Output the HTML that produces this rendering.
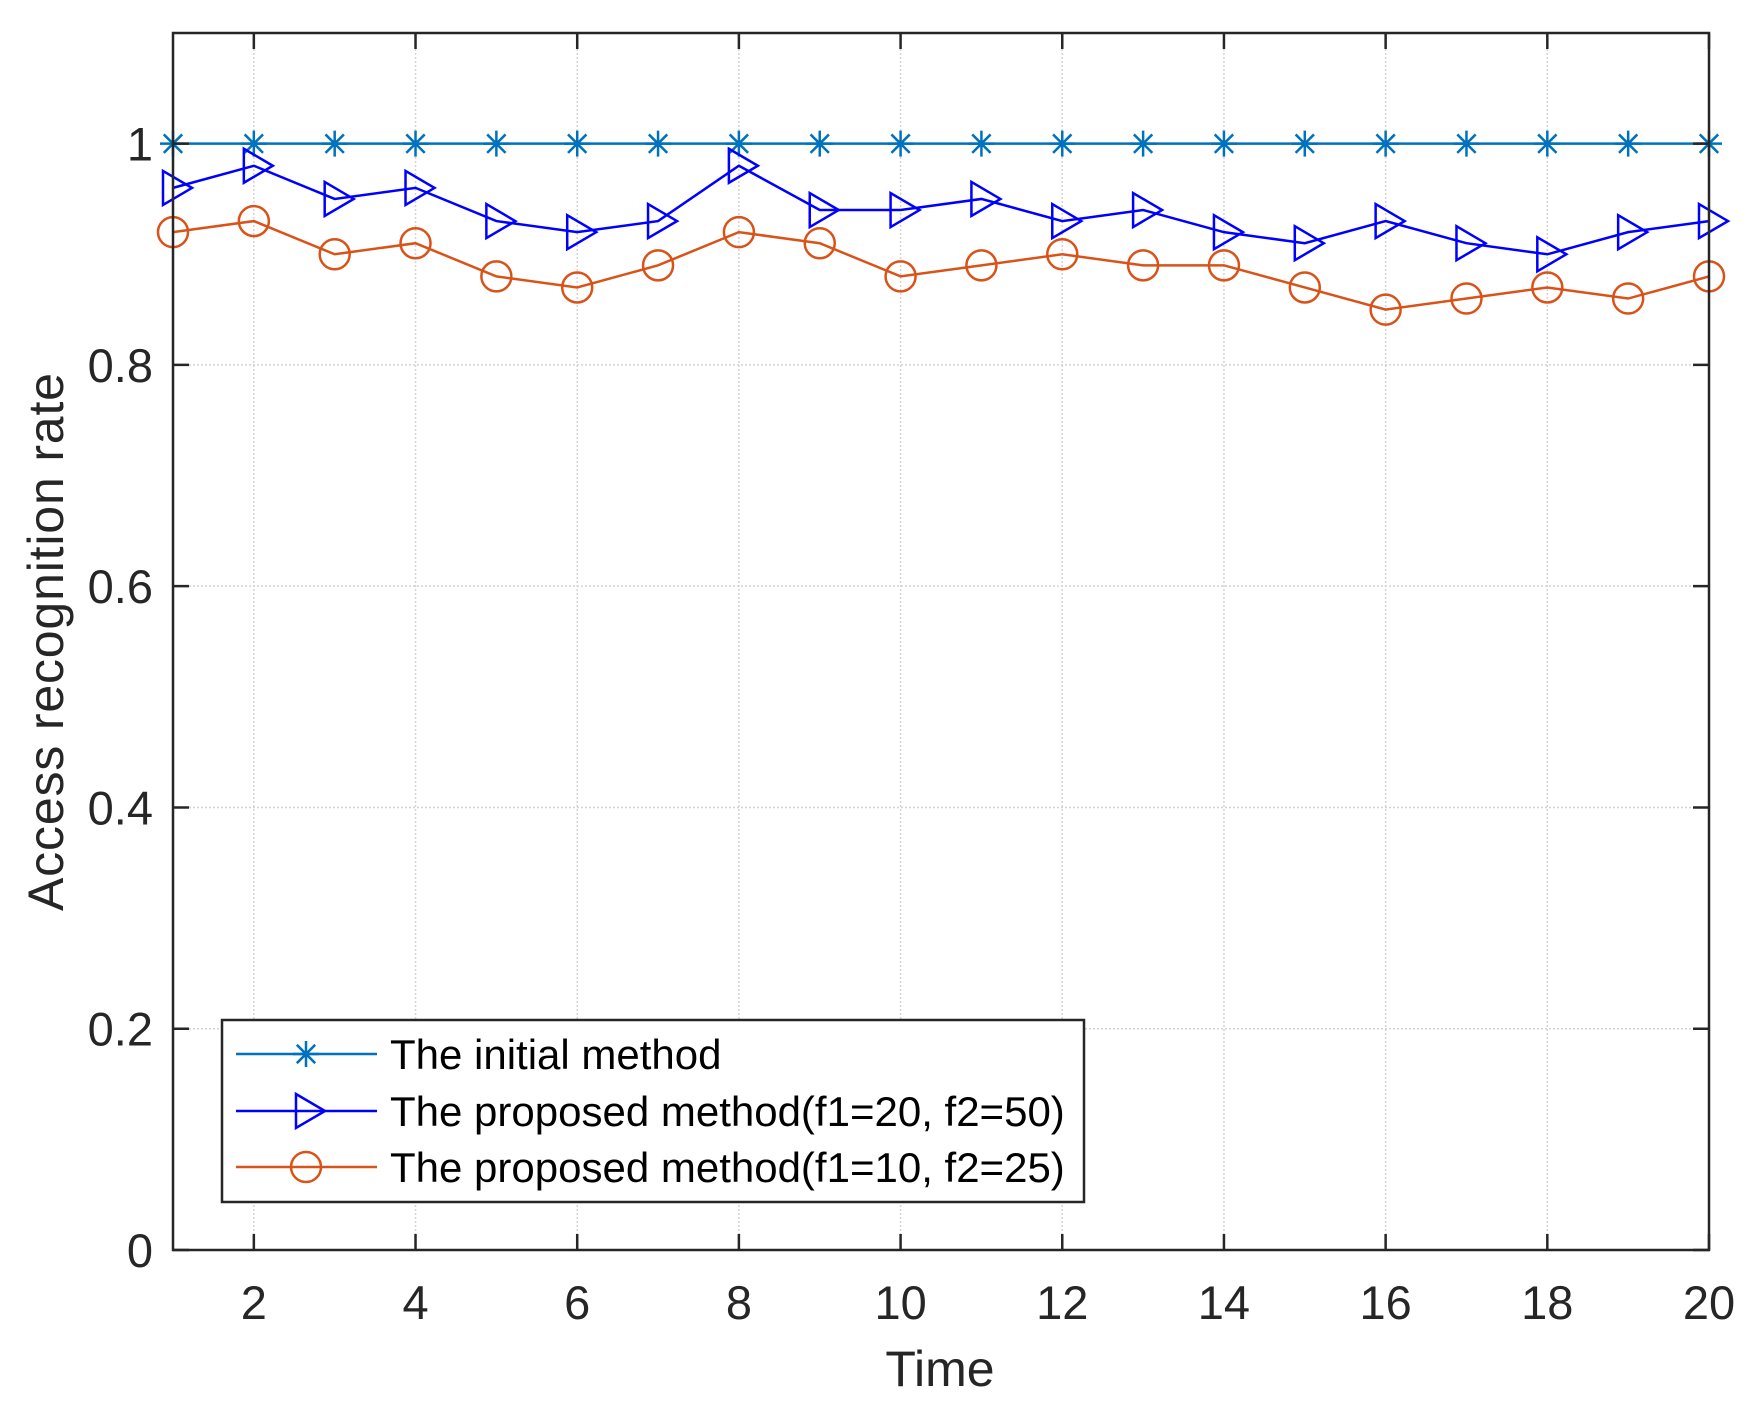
<!DOCTYPE html>
<html><head><meta charset="utf-8"><style>
html,body{margin:0;padding:0;background:#fff}
svg text{font-family:"Liberation Sans",Arial,sans-serif;fill:#262626}
</style></head><body>
<svg id="chart" width="1758" height="1414" xmlns="http://www.w3.org/2000/svg">
<rect width="1758" height="1414" fill="#fff"/>
<g id="grid"></g>
<g id="series"></g>
<g id="axes"></g>
<text x="940" y="1386" font-size="50" text-anchor="middle">Time</text>
<text transform="translate(63,642) rotate(-90)" font-size="50" text-anchor="middle" textLength="538">Access recognition rate</text>
<g id="legend"></g>
</svg>
<script>
const times = [1,2,3,4,5,6,7,8,9,10,11,12,13,14,15,16,17,18,19,20];
const initialValues = [1,1,1,1,1,1,1,1,1,1,1,1,1,1,1,1,1,1,1,1];
const proposed20Values = [0.96,0.98,0.95,0.96,0.93,0.92,0.93,0.98,0.94,0.94,0.95,0.93,0.94,0.92,0.91,0.93,0.91,0.90,0.92,0.93];
const proposed10Values = [0.92,0.93,0.90,0.91,0.88,0.87,0.89,0.92,0.91,0.88,0.89,0.90,0.89,0.89,0.87,0.85,0.86,0.87,0.86,0.88];
const xTicks = [2,4,6,8,10,12,14,16,18,20];
const yTicks = [0,0.2,0.4,0.6,0.8,1];
const yTickLabels = ["0","0.2","0.4","0.6","0.8","1"];
const legendLabels = ["The initial method","The proposed method(f1=20, f2=50)","The proposed method(f1=10, f2=25)"];

const L=173,R=1709,T=33,B=1250;
const xMin=1,xMax=20,yMin=0,yMax=1.1;
const sx=v=>L+(v-xMin)/(xMax-xMin)*(R-L);
const sy=v=>B-(v-yMin)/(yMax-yMin)*(B-T);
const NS="http://www.w3.org/2000/svg";
function mk(tag,attrs,parent){const e=document.createElementNS(NS,tag);for(const k in attrs)e.setAttribute(k,attrs[k]);parent.appendChild(e);return e;}
const grid=document.getElementById('grid'),axes=document.getElementById('axes'),series=document.getElementById('series'),legend=document.getElementById('legend');

xTicks.forEach(t=>{
  const g=mk('line',{x1:sx(t),x2:sx(t),y1:T,y2:B,stroke:'#d4d4d4','stroke-width':1.5,'stroke-dasharray':'2,2'},grid);
  
  
  const tk=mk('path',{d:`M${sx(t)},${B}v-16M${sx(t)},${T}v16`,stroke:'#262626','stroke-width':2.5},axes);
  
  
  const tx=mk('text',{x:sx(t),y:1319,'font-size':47,'text-anchor':'middle'},axes);
  tx.textContent=t;
  
  
});
yTicks.forEach((t,i)=>{
  const g=mk('line',{x1:L,x2:R,y1:sy(t),y2:sy(t),stroke:'#d4d4d4','stroke-width':1.5,'stroke-dasharray':'2,2'},grid);
  
  
  const tk=mk('path',{d:`M${L},${sy(t)}h16M${R},${sy(t)}h-16`,stroke:'#262626','stroke-width':2.5},axes);
  
  
  const tx=mk('text',{x:153,y:sy(t)+17,'font-size':47,'text-anchor':'end'},axes);
  tx.textContent=yTickLabels[i];
  
  
});
const frame=mk('rect',{x:L,y:T,width:R-L,height:B-T,fill:'none',stroke:'#262626','stroke-width':2.5},axes);



function marker(type,x,y,color,parent){
  let e;
  if(type==='star'){
    const r=13,d=r*0.707;
    e=mk('path',{d:`M${x-r},${y}h${2*r}M${x},${y-r}v${2*r}M${x-d},${y-d}l${2*d},${2*d}M${x-d},${y+d}l${2*d},${-2*d}`,stroke:color,'stroke-width':2.5,fill:'none'},parent);
  }else if(type==='tri'){
    e=mk('path',{d:`M${x-10},${y-17}L${x+19},${y}L${x-10},${y+17}Z`,stroke:color,'stroke-width':2.5,fill:'none'},parent);
  }else{
    e=mk('circle',{cx:x,cy:y,r:15,stroke:color,'stroke-width':2.5,fill:'none'},parent);
  }
  return e;
}
const defs=[[initialValues,'#0072BD','star'],[proposed20Values,'#0000FF','tri'],[proposed10Values,'#D95319','circ']];
const names=['series-initial','series-proposed-f1-20','series-proposed-f1-10'];
defs.forEach((d,si)=>{
  const [vals,color,type]=d;
  const g=mk('g',{},series);
  
  
  const pts=vals.map((v,i)=>`${sx(times[i])},${sy(v)}`).join(' ');
  const pl=mk('polyline',{points:pts,fill:'none',stroke:color,'stroke-width':2.5},g);
  
  
  vals.forEach((v,i)=>{
    const m=marker(type,sx(times[i]),sy(v),color,g);
    
    
  });
});

const lb=mk('rect',{x:222,y:1020,width:862,height:182,fill:'#fff',stroke:'#262626','stroke-width':2.5},legend);


const rows=[1054,1111,1167];
defs.forEach((d,i)=>{
  const [vals,color,type]=d;
  const g=mk('g',{},legend);
  
  
  mk('line',{x1:236,x2:377,y1:rows[i],y2:rows[i],stroke:color,'stroke-width':2.5},g);
  marker(type,306,rows[i],color,g);
  const t=mk('text',{x:390,y:rows[i]+15,'font-size':42,style:'fill:#000'},g);
  t.textContent=legendLabels[i];
  
  
});
</script>
</body></html>
